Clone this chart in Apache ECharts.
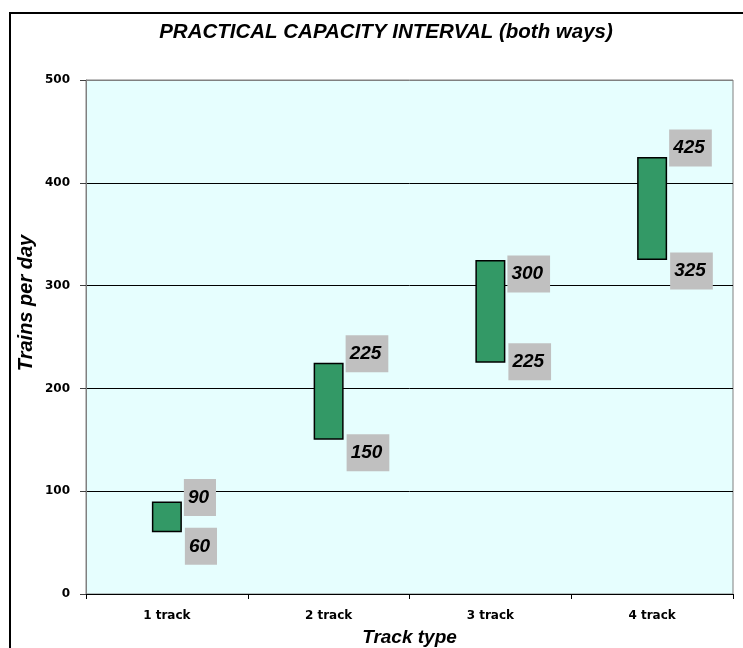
<!DOCTYPE html>
<html>
<head>
<meta charset="utf-8">
<title>Practical capacity interval</title>
<script src="https://cdn.jsdelivr.net/npm/echarts@6/dist/echarts.min.js"></script>
<style>
  html, body { margin: 0; padding: 0; background: #ffffff; }
  #chart { width: 743px; height: 648px; }
</style>
</head>
<body>
<div id="chart"></div>
<script>
// Track types and the practical capacity range (trains per day, both ways)
const trackTypes = ['1 track', '2 track', '3 track', '4 track'];
const capacityLow = [60, 150, 225, 325];
const capacityHigh = [90, 225, 325, 425];
// Values printed in the grey boxes beside each bar
const upperLabels = ['90', '225', '300', '425'];
const lowerLabels = ['60', '150', '225', '325'];
// Y-axis ticks
const yTicks = [0, 100, 200, 300, 400, 500];

// Vertical nudges of the grey value boxes (px from the bar edge)
const upperNudge = [-4, -9, 14, -9];
const lowerNudge = [14, 13, -1, 11];

const chart = echarts.init(document.getElementById('chart'), null, { renderer: 'canvas' });

const boxLabel = {
  show: true,
  position: ['100%', 0],
  align: 'left',
  verticalAlign: 'middle',
  fontFamily: 'Liberation Sans, Arial, sans-serif',
  fontWeight: 'bold',
  fontStyle: 'italic',
  fontSize: 19,
  lineHeight: 19,
  color: '#000000',
  backgroundColor: '#C0C0C0',
  padding: [9, 7, 9, 4]
};

const lowerData = capacityLow.map((v, i) => ({
  value: v,
  label: Object.assign({}, boxLabel, {
    offset: [3, lowerNudge[i]],
    formatter: () => lowerLabels[i]
  })
}));

const spanData = capacityHigh.map((v, i) => ({
  value: v - capacityLow[i],
  label: Object.assign({}, boxLabel, {
    offset: [2, upperNudge[i]],
    formatter: () => upperLabels[i]
  })
}));

const option = {
  animation: false,
  backgroundColor: '#ffffff',
  title: {
    text: 'PRACTICAL CAPACITY INTERVAL (both ways)',
    left: 381,
    top: 17,
    textAlign: 'center',
    textStyle: {
      fontFamily: 'Liberation Sans, Arial, sans-serif',
      fontWeight: 'bold',
      fontStyle: 'italic',
      fontSize: 20.5,
      color: '#000000'
    }
  },
  graphic: [
    {
      type: 'rect',
      silent: true,
      z: 100,
      shape: { x: 10, y: 13, width: 900, height: 800 },
      style: { fill: null, stroke: '#000000', lineWidth: 2 }
    },
    {
      type: 'text',
      x: 26,
      y: 303,
      rotation: Math.PI / 2,
      style: {
        text: 'Trains per day',
        fontFamily: 'Liberation Sans, Arial, sans-serif',
        fontWeight: 'bold',
        fontStyle: 'italic',
        fontSize: 20,
        fill: '#000000',
        align: 'center',
        verticalAlign: 'middle'
      }
    }
  ],
  grid: {
    left: 86,
    right: 10,
    top: 80,
    bottom: 54,
    outerBoundsMode: 'none',
    containLabel: false,
    show: true,
    backgroundColor: '#E6FEFE',
    borderColor: '#808080',
    borderWidth: 1
  },
  xAxis: {
    type: 'category',
    data: trackTypes,
    name: 'Track type',
    nameLocation: 'middle',
    nameGap: 34,
    nameTextStyle: {
      fontFamily: 'Liberation Sans, Arial, sans-serif',
      fontWeight: 'bold',
      fontStyle: 'italic',
      fontSize: 19,
      color: '#000000'
    },
    axisLine: { lineStyle: { color: '#000000', width: 1 } },
    axisTick: { show: true, length: 5, lineStyle: { color: '#000000' } },
    axisLabel: {
      margin: 16,
      fontFamily: 'DejaVu Sans, sans-serif',
      fontWeight: 'bold',
      fontSize: 12,
      color: '#000000'
    },
    splitLine: { show: false }
  },
  yAxis: {
    type: 'value',
    min: yTicks[0],
    max: yTicks[yTicks.length - 1],
    interval: yTicks[1] - yTicks[0],
    axisLine: { show: true, lineStyle: { color: '#808080', width: 1 } },
    axisTick: { show: true, length: 6, lineStyle: { color: '#404040' } },
    axisLabel: {
      margin: 16,
      fontFamily: 'DejaVu Sans, sans-serif',
      fontWeight: 'bold',
      fontSize: 12,
      color: '#000000'
    },
    splitLine: {
      show: true,
      lineStyle: {
        color: ['#000000', '#000000', '#000000', '#000000', '#000000', '#808080'],
        width: 1
      }
    }
  },
  series: [
    {
      name: 'low',
      type: 'bar',
      stack: 'range',
      barWidth: 30,
      itemStyle: { color: 'rgba(0,0,0,0)', borderWidth: 0 },
      emphasis: { disabled: true },
      data: lowerData,
      z: 3
    },
    {
      name: 'range',
      type: 'bar',
      stack: 'range',
      barWidth: 30,
      itemStyle: { color: '#339966', borderColor: '#000000', borderWidth: 1.5 },
      emphasis: { disabled: true },
      data: spanData,
      z: 2
    }
  ]
};

chart.setOption(option);
</script>
</body>
</html>
